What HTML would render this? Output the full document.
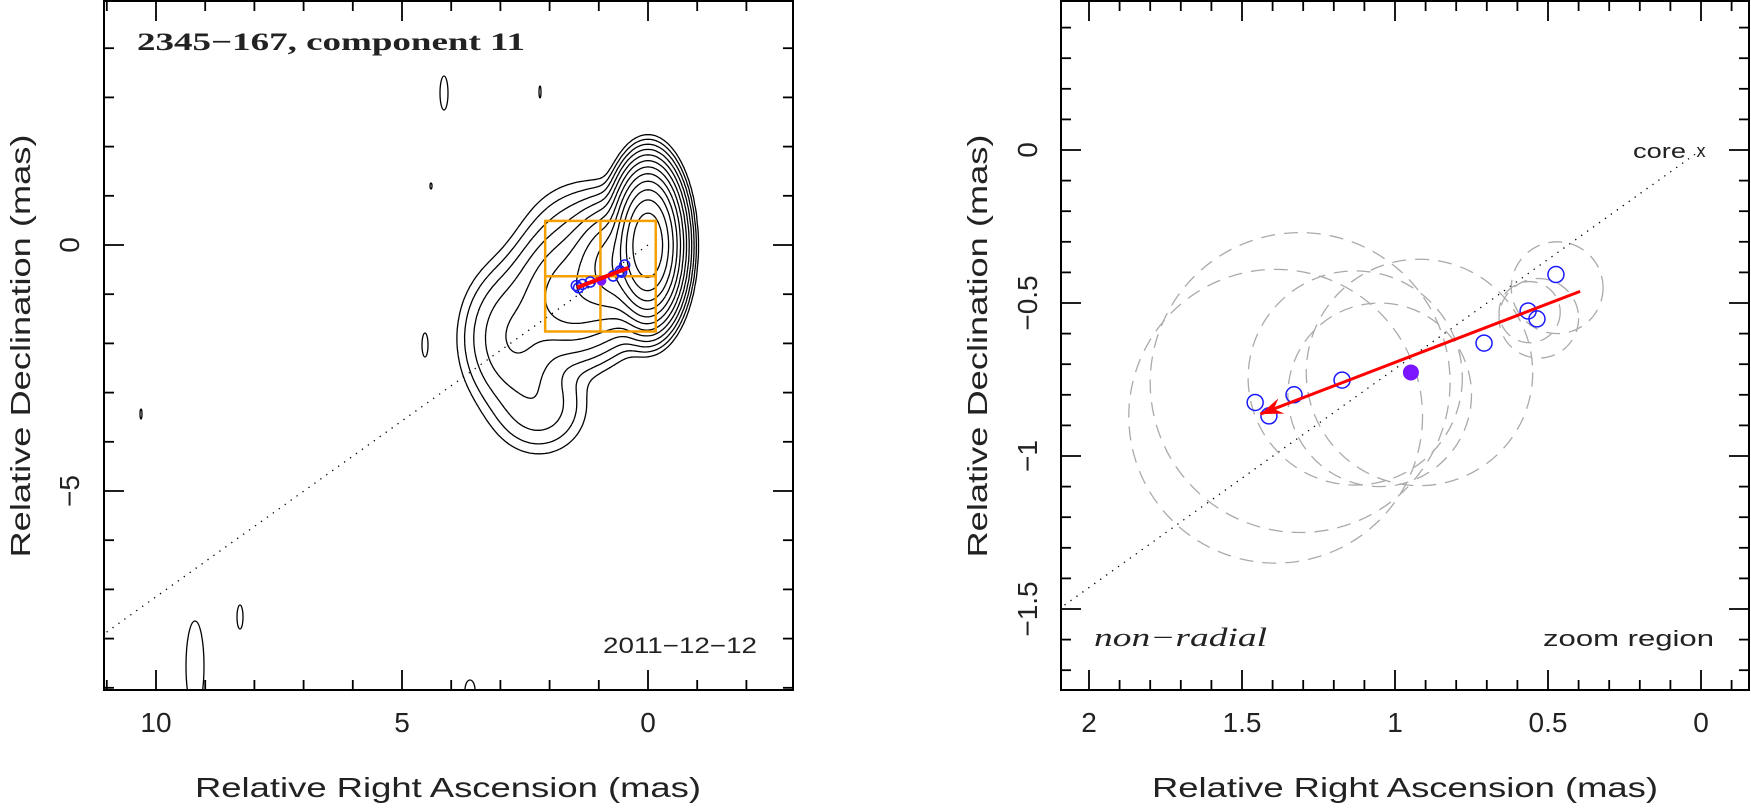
<!DOCTYPE html>
<html><head><meta charset="utf-8">
<style>
html,body{margin:0;padding:0;background:#fff;width:1751px;height:809px;overflow:hidden;}
svg{display:block;}
text{font-family:"Liberation Sans",sans-serif;fill:#222;}
</style></head>
<body>
<svg id="fig" width="1751" height="809" viewBox="0 0 1751 809" xmlns="http://www.w3.org/2000/svg">
<defs>
<clipPath id="clipL"><rect x="104" y="1" width="689" height="689"/></clipPath>
<clipPath id="clipR"><rect x="1061" y="1" width="688" height="689"/></clipPath>
</defs>
<g id="left">
 <g id="lContours" clip-path="url(#clipL)"></g>
 <g id="lMarks" clip-path="url(#clipL)"></g>
 <rect x="104" y="1" width="689" height="689" fill="none" stroke="#000" stroke-width="2"/>
 <g id="lTicks"></g>
 <text x="137" y="50" textLength="388" lengthAdjust="spacingAndGlyphs" style="font-family:'Liberation Serif',serif;font-weight:bold;font-size:25px" fill="#111">2345−167, component 11</text>
 <text x="603" y="653" textLength="154" lengthAdjust="spacingAndGlyphs" style="font-size:22px" fill="#444">2011−12−12</text>
 <text x="448" y="797" text-anchor="middle" textLength="506" lengthAdjust="spacingAndGlyphs" style="font-size:28px">Relative Right Ascension (mas)</text>
 <text transform="translate(30,346) rotate(-90)" text-anchor="middle" textLength="423" lengthAdjust="spacingAndGlyphs" style="font-size:28px">Relative Declination (mas)</text>
</g>
<g id="right">
 <g id="rMarks" clip-path="url(#clipR)"></g>
 <rect x="1061" y="1" width="688" height="689" fill="none" stroke="#000" stroke-width="2"/>
 <g id="rTicks"></g>
 <text x="1633" y="158" textLength="53" lengthAdjust="spacingAndGlyphs" style="font-size:20px" fill="#444">core</text>
 <text x="1701" y="157" text-anchor="middle" style="font-size:18px" fill="#444">x</text>
 <text x="1094" y="646" textLength="173" lengthAdjust="spacingAndGlyphs" style="font-family:'Liberation Serif',serif;font-style:italic;font-size:26px" fill="#111">non−radial</text>
 <text x="1543" y="646" textLength="171" lengthAdjust="spacingAndGlyphs" style="font-size:22px" fill="#444">zoom region</text>
 <text x="1405" y="797" text-anchor="middle" textLength="506" lengthAdjust="spacingAndGlyphs" style="font-size:28px">Relative Right Ascension (mas)</text>
 <text transform="translate(987,346) rotate(-90)" text-anchor="middle" textLength="423" lengthAdjust="spacingAndGlyphs" style="font-size:28px">Relative Declination (mas)</text>
</g>
</svg>
<script>
// ---- data ----
const pointRA  = [0.474, 0.565, 0.536, 0.709, 1.173, 1.33, 1.457, 1.412];
const pointDec = [-0.407, -0.526, -0.552, -0.631, -0.752, -0.80, -0.825, -0.869];
const meanRA = [0.948];
const meanDec = [-0.727];
const arrowRA = [0.395, 1.44];
const arrowDec = [-0.462, -0.863];
const circRA  = [1.39, 1.31, 1.13, 0.92, 1.05, 0.53, 0.56, 0.47];
const circDec = [-0.87, -0.76, -0.745, -0.727, -0.80, -0.55, -0.53, -0.45];
const circR   = [0.48, 0.49, 0.35, 0.37, 0.30, 0.13, 0.10, 0.15];
const compAmp = [1, 0.05, 0.012, 0.004, 0.0014, 0.0015];
const compRA  = [0, 0.6, 1.5, 2.7, 2.2, 1.3];
const compDec = [0, -0.4, -1.0, -1.9, -3.3, 0.1];
const compSx  = [0.25, 0.4, 0.55, 0.5, 0.5, 0.6];
const compSy  = [0.55, 0.5, 0.6, 0.7, 0.5, 0.6];
const contourLevels = [0.5,0.25,0.125,0.0625,0.03125,0.015625,0.0078125,0.00390625,0.001953,0.000977,0.000488,0.000244];
const zoomRA = [2.09, -0.157];
const zoomDec = [0.49, -1.758];
const leftXTicks = ["10","5","0"];
const rightXTicks = ["2","1.5","1","0.5","0"];
const rightYTicks = ["0","−0.5","−1","−1.5"];
const corePA = 0.715; // dec/ra slope of dotted line

const NS="http://www.w3.org/2000/svg";
function mk(parent,tag,attrs){const e=document.createElementNS(NS,tag);for(const k in attrs)e.setAttribute(k,attrs[k]);parent.appendChild(e);return e;}
const LS=49.2, RS=306;
const lx=ra=>648-ra*LS, ly=d=>245-d*LS;
const rx=ra=>1701-ra*RS, ry=d=>150-d*RS;

// ---- left contours (marching squares) ----
function field(x,y){let s=0;for(let i=0;i<compAmp.length;i++){const dx=(x-compRA[i])/compSx[i],dy=(y-compDec[i])/compSy[i];s+=compAmp[i]*Math.exp(-0.5*(dx*dx+dy*dy));}return s;}
const gC=document.getElementById('lContours');
const x0=-2,x1=6,y0=-6,y1=4,h=0.05;
const nx=Math.round((x1-x0)/h),ny=Math.round((y1-y0)/h);
const F=[];for(let j=0;j<=ny;j++){const r=[];for(let i=0;i<=nx;i++)r.push(field(x0+i*h,y0+j*h));F.push(r);}
contourLevels.forEach((L,li)=>{
  let d="";
  for(let j=0;j<ny;j++)for(let i=0;i<nx;i++){
    const a=F[j][i],b=F[j][i+1],c=F[j+1][i+1],e=F[j+1][i];
    const idx=(a>L?1:0)|(b>L?2:0)|(c>L?4:0)|(e>L?8:0);
    if(idx===0||idx===15)continue;
    const X=i*h+x0,Y=j*h+y0;
    const pB=[X+h*(L-a)/(b-a),Y], pR=[X+h,Y+h*(L-b)/(c-b)], pT=[X+h*(L-e)/(c-e),Y+h], pL=[X,Y+h*(L-a)/(e-a)];
    const segs={1:[[pL,pB]],2:[[pB,pR]],3:[[pL,pR]],4:[[pR,pT]],5:[[pL,pT],[pB,pR]],6:[[pB,pT]],7:[[pL,pT]],8:[[pL,pT]],9:[[pB,pT]],10:[[pL,pB],[pR,pT]],11:[[pR,pT]],12:[[pL,pR]],13:[[pB,pR]],14:[[pL,pB]]}[idx];
    segs.forEach(s=>{d+="M"+lx(s[0][0]).toFixed(1)+" "+ly(s[0][1]).toFixed(1)+"L"+lx(s[1][0]).toFixed(1)+" "+ly(s[1][1]).toFixed(1);});
  }
  const p=mk(gC,'path',{d:d,fill:'none',stroke:'#000','stroke-width':1.3});
  
  
});
[[444,93,4,17],[425,345,3,12],[240,617,3,12],[195,666,9,45],[540,92,1,6],[431,186,1,3],[141,414,1,5],[470,690,5,10]].forEach(e=>{
  const el=mk(gC,'ellipse',{cx:e[0],cy:e[1],rx:e[2],ry:e[3],fill:'none',stroke:'#000','stroke-width':1.3});
  
  
});

// ---- marks for each panel ----
function drawMarks(g,X,Y,scale,big){
  const ln=mk(g,'line',{x1:X(0),y1:Y(0),x2:X(12),y2:Y(-12*corePA),stroke:'#000','stroke-width':1.3,'stroke-dasharray':'1.3 6'});
  
  
  if(big){
    for(let i=0;i<circRA.length;i++){
      const c=mk(g,'circle',{cx:X(circRA[i]),cy:Y(circDec[i]),r:circR[i]*scale,fill:'none',stroke:'#aaa','stroke-width':1.3,'stroke-dasharray':'14 9'});
      
      
    }
  } else {
    const o=mk(g,'g',{fill:'none',stroke:'#f5a000','stroke-width':2.5});
    
    
    const xa=X(zoomRA[0]),xb=X(zoomRA[1]),ya=Y(zoomDec[0]),yb=Y(zoomDec[1]);
    mk(o,'rect',{x:xa,y:ya,width:xb-xa,height:yb-ya});
    mk(o,'line',{x1:(xa+xb)/2,y1:ya,x2:(xa+xb)/2,y2:yb});
    mk(o,'line',{x1:xa,y1:(ya+yb)/2,x2:xb,y2:(ya+yb)/2});
  }
  const pr=big?8:5;
  for(let i=0;i<pointRA.length;i++){
    const c=mk(g,'circle',{cx:X(pointRA[i]),cy:Y(pointDec[i]),r:pr,fill:'none',stroke:'#1a1aff','stroke-width':1.5});
    
    
  }
  for(let i=0;i<meanRA.length;i++){
    const c=mk(g,'circle',{cx:X(meanRA[i]),cy:Y(meanDec[i]),r:pr,fill:'#7a16ff'});
    
    
  }
  const ax1=X(arrowRA[0]),ay1=Y(arrowDec[0]),ax2=X(arrowRA[1]),ay2=Y(arrowDec[1]);
  const ar=mk(g,'line',{x1:ax1,y1:ay1,x2:ax2,y2:ay2,stroke:'#ff0000','stroke-width':big?3:4});
  
  
  if(big){
    const ang=Math.atan2(ay2-ay1,ax2-ax1),L=24,W=0.35;
    const p1=[ax2-L*Math.cos(ang-W),ay2-L*Math.sin(ang-W)],p2=[ax2-L*Math.cos(ang+W),ay2-L*Math.sin(ang+W)],pm=[ax2-L*0.6*Math.cos(ang),ay2-L*0.6*Math.sin(ang)];
    const hd=mk(g,'polygon',{points:`${ax2},${ay2} ${p1} ${pm} ${p2}`,fill:'#ff0000'});
    
    
  }
}
drawMarks(document.getElementById('lMarks'),lx,ly,LS,false);
drawMarks(document.getElementById('rMarks'),rx,ry,RS,true);

// ---- ticks ----
function ticks(g,xs,ys,X,Y,xl,xr,yt,yb){
  xs.forEach(t=>{const x=X(t.v),l=t.m?20:10;if(x<xl+1||x>xr-1)return;
    mk(g,'line',{x1:x,y1:yb,x2:x,y2:yb-l,stroke:'#000','stroke-width':1.8});
    mk(g,'line',{x1:x,y1:yt,x2:x,y2:yt+l,stroke:'#000','stroke-width':1.8});});
  ys.forEach(t=>{const y=Y(t.v),l=t.m?20:10;if(y<yt+1||y>yb-1)return;
    mk(g,'line',{x1:xl,y1:y,x2:xl+l,y2:y,stroke:'#000','stroke-width':1.8});
    mk(g,'line',{x1:xr,y1:y,x2:xr-l,y2:y,stroke:'#000','stroke-width':1.8});});
}
const lT=document.getElementById('lTicks'),rT=document.getElementById('rTicks');
const lxs=[],lys=[];for(let v=-3;v<=11;v++)lxs.push({v:v,m:v%5===0});for(let v=-9;v<=5;v++)lys.push({v:v,m:v%5===0});
ticks(lT,lxs,lys,lx,ly,104,793,1,690);
const rxs=[],rys=[];for(let k=-2;k<=21;k++)rxs.push({v:k/10,m:k%5===0});for(let k=-18;k<=5;k++)rys.push({v:k/10,m:k%5===0});
ticks(rT,rxs,rys,rx,ry,1061,1749,1,690);
leftXTicks.forEach(s=>{const t=mk(lT,'text',{x:lx(parseFloat(s)),y:732,'text-anchor':'middle',style:'font-size:28px'});t.textContent=s;
  
  });
["0","−5"].forEach(s=>{const v=parseFloat(s.replace('−','-'));const t=mk(lT,'text',{transform:`translate(79,${ly(v)}) rotate(-90)`,'text-anchor':'middle',style:'font-size:28px'});t.textContent=s;
  
  });
rightXTicks.forEach(s=>{const t=mk(rT,'text',{x:rx(parseFloat(s)),y:732,'text-anchor':'middle',style:'font-size:28px'});t.textContent=s;
  
  });
rightYTicks.forEach(s=>{const v=parseFloat(s.replace('−','-'));const t=mk(rT,'text',{transform:`translate(1037,${ry(v)}) rotate(-90)`,'text-anchor':'middle',style:'font-size:28px'});t.textContent=s;
  
  });
</script>
</body></html>
